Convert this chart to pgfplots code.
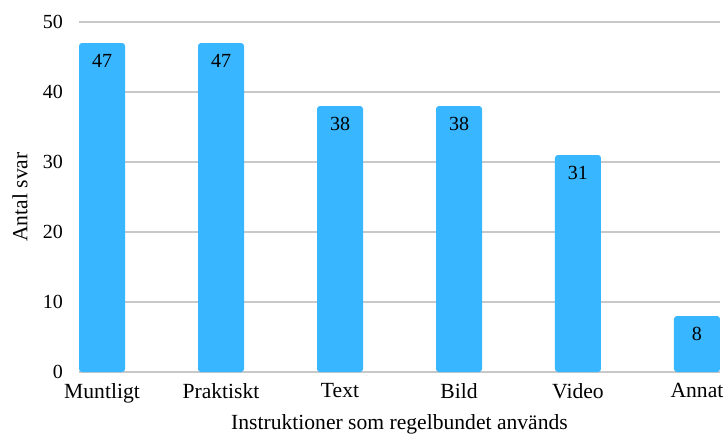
\documentclass[border=0pt]{standalone}
\usepackage{fontspec}
\setmainfont{Liberation Serif}
\usepackage{pgfplots}
\pgfplotsset{compat=1.18}
\definecolor{barblue}{RGB}{56,182,255}
\definecolor{gridgray}{RGB}{200,200,200}
\begin{document}
\begin{tikzpicture}
\begin{axis}[
  at={(0,0)}, anchor=south west, scale only axis,
  width=320.5pt, height=175pt,
  xmin=-0.1935, xmax=5.1935, ymin=0, ymax=50,
  ytick={0,10,...,50}, xtick={0,...,5},
  xticklabels={Muntligt,Praktiskt,Text,Bild,Video,Annat},
  /pgf/number format/assume math mode=true,
  axis line style={draw=none},
  major tick length=0pt,
  ymajorgrids, grid style={gridgray, line width=0.6pt},
  yticklabel style={xshift=-4.5pt},
  xticklabel style={yshift=-2pt, font=\fontsize{10.8}{13}\selectfont},
  xlabel={Instruktioner som regelbundet används},
  ylabel={Antal svar},
  label style={font=\fontsize{10.8}{13}\selectfont},
  xlabel style={yshift=0.8pt},
  ylabel style={at={(axis description cs:0,0.5)}, anchor=center, yshift=29.5pt},
  ybar, bar width=23pt, bar shift=0pt,
  nodes near coords,
  every node near coord/.append style={anchor=north, yshift=-2pt, black},
]
\addplot[fill=barblue, draw=none, rounded corners=1.5pt] coordinates {(0,47) (1,47) (2,38) (3,38) (4,31) (5,8)};
\end{axis}
\pgfresetboundingbox
\path (-39.5pt,-31.5pt) rectangle (324.5pt,186pt);
\end{tikzpicture}
\end{document}
